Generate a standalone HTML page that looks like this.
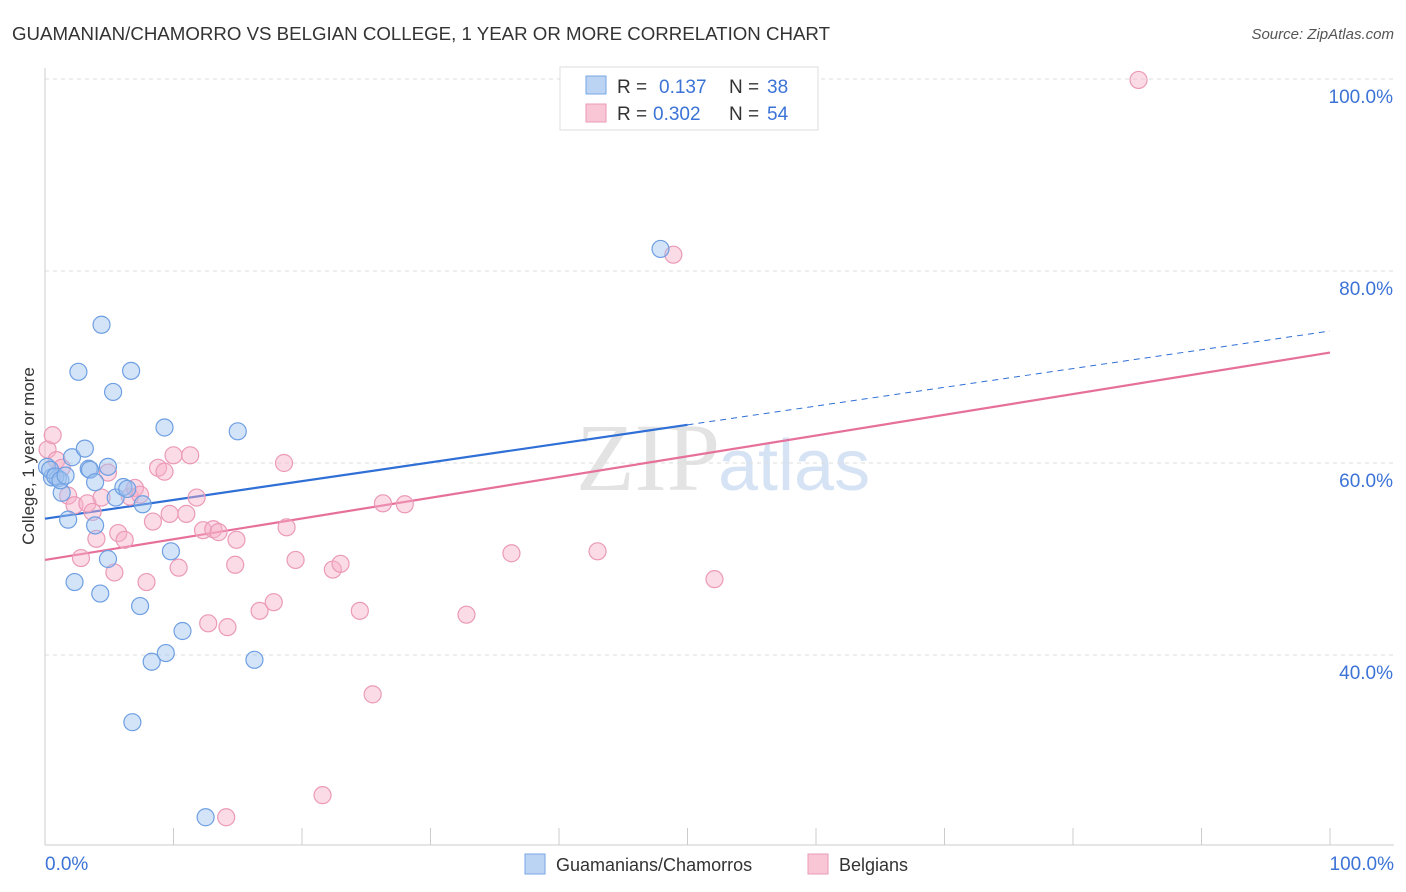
<!DOCTYPE html>
<html><head><meta charset="utf-8"><style>
body{margin:0;background:#fff;font-family:"Liberation Sans",sans-serif;}
svg{display:block}
</style></head><body>
<svg id="chart" width="1406" height="892">
<text x="12" y="40" font-size="18" fill="#333" textLength="818" lengthAdjust="spacingAndGlyphs">GUAMANIAN/CHAMORRO VS BELGIAN COLLEGE, 1 YEAR OR MORE CORRELATION CHART</text>
<text x="1394" y="39" font-size="15" fill="#555" font-style="italic" text-anchor="end">Source: ZipAtlas.com</text>
<text x="720" y="490" font-size="96" fill="#e3e3e3" text-anchor="end" font-family="Liberation Serif,serif">ZIP</text>
<text x="718" y="490" font-size="72" fill="#d6e3f5">atlas</text>
<g id="grid"></g>
<g id="axes"></g>
<g id="lines"></g>
<g id="points"></g>
<text transform="translate(34,456) rotate(-90)" font-size="17" fill="#333" text-anchor="middle">College, 1 year or more</text>
<g>
<rect x="560" y="67" width="258" height="63" fill="#fff" stroke="#ddd"/>
<rect x="586" y="76" width="20" height="18" fill="#bcd4f4" stroke="#7aa6e4"/>
<text x="617" y="93" font-size="19" fill="#333">R = </text><text x="659" y="93" font-size="19" fill="#3b73d6">0.137</text>
<text x="729" y="93" font-size="19" fill="#333">N = </text><text x="767" y="93" font-size="19" fill="#3b73d6">38</text>
<rect x="586" y="104" width="20" height="18" fill="#f9c6d6" stroke="#eb9ab7"/>
<text x="617" y="120" font-size="19" fill="#333">R = </text><text x="653" y="120" font-size="19" fill="#3b73d6">0.302</text>
<text x="729" y="120" font-size="19" fill="#333">N = </text><text x="767" y="120" font-size="19" fill="#3b73d6">54</text>
</g>
<g>
<rect x="525" y="854" width="20" height="20" fill="#bcd4f4" stroke="#7aa6e4"/>
<text x="556" y="871" font-size="18" fill="#333">Guamanians/Chamorros</text>
<rect x="808" y="854" width="20" height="20" fill="#f9c6d6" stroke="#eb9ab7"/>
<text x="839" y="871" font-size="18" fill="#333">Belgians</text>
</g>
</svg>
<script>
const blueX=[0.16,0.54,1.0,1.3,1.8,2.1,2.3,2.6,3.1,3.4,3.5,3.9,3.9,4.3,4.4,4.9,4.9,5.3,5.5,6.1,6.4,6.7,6.8,7.4,7.6,8.3,9.3,9.4,9.8,10.7,12.5,15.0,16.3,47.9,0.4,0.8,1.2,1.6];
const blueY=[59.6,58.5,58.4,56.9,54.1,60.6,47.6,69.5,61.5,59.4,59.3,58.0,53.5,46.4,74.4,59.6,50.0,67.4,56.4,57.5,57.3,69.6,33.0,45.1,55.7,39.3,63.7,40.2,50.8,42.5,23.1,63.3,39.5,82.3,59.3,58.6,58.2,58.7];
const pinkX=[0.2,0.6,0.9,1.3,1.8,2.3,2.8,3.3,3.7,4.0,4.4,4.9,5.4,5.7,6.2,6.6,7.0,7.4,7.9,8.4,8.8,9.3,9.7,10.0,10.4,11.0,11.3,11.8,12.3,12.7,13.1,13.5,14.2,14.8,14.9,16.7,17.8,18.6,18.8,19.5,21.6,22.4,23.0,24.5,25.5,26.3,28.0,32.8,36.3,43.0,48.9,52.1,85.1,14.1];
const pinkY=[61.4,62.9,60.3,59.5,56.6,55.6,50.1,55.8,54.9,52.1,56.4,59.0,48.6,52.7,52.0,56.5,57.4,56.7,47.6,53.9,59.5,59.1,54.7,60.8,49.1,54.7,60.8,56.4,53.0,43.3,53.1,52.8,42.9,49.4,52.0,44.6,45.5,60.0,53.3,49.9,25.4,48.9,49.5,44.6,35.9,55.8,55.7,44.2,50.6,50.8,81.7,47.9,99.9,23.1];
const blueTrend=[54.2,73.75];
const pinkTrend=[49.9,71.5];
const yTicks=[100,80,60,40];
const xTicks=[0,10,20,30,40,50,60,70,80,90,100];
const NS="http://www.w3.org/2000/svg";
const sx=v=>45+v*12.85;
const sy=v=>79+(100-v)*9.6;
function mk(tag,attrs,parent){const e=document.createElementNS(NS,tag);for(const k in attrs)e.setAttribute(k,attrs[k]);parent.appendChild(e);return e;}
const grid=document.getElementById('grid'),axes=document.getElementById('axes'),lines=document.getElementById('lines'),pts=document.getElementById('points');
yTicks.forEach(t=>{
 const l=mk('line',{x1:45,x2:1394,y1:sy(t),y2:sy(t),stroke:'#ddd','stroke-dasharray':'4,4'},grid);
 
 
 const tx=mk('text',{x:1393,y:sy(t)+24,'font-size':19,fill:'#3b73d6','text-anchor':'end'},axes);
 tx.textContent=t.toFixed(1)+'%';
 
 
});
const ax=mk('line',{x1:45,x2:1394,y1:845,y2:845,stroke:'#ccc'},axes);


const ay=mk('line',{x1:45,x2:45,y1:68,y2:845,stroke:'#ccc'},axes);


xTicks.forEach(t=>{
 const l=mk('line',{x1:sx(t),x2:sx(t),y1:828,y2:845,stroke:'#ccc'},axes);
 
 
});
[[0,'0.0%','start',45],[100,'100.0%','end',1394]].forEach(a=>{
 const tx=mk('text',{x:a[3],y:870,'font-size':19,fill:'#3b73d6','text-anchor':a[2]},axes);
 tx.textContent=a[1];
 
 
});
const bl=mk('line',{x1:sx(0),y1:sy(blueTrend[0]),x2:sx(50),y2:sy(blueTrend[0]+(blueTrend[1]-blueTrend[0])*0.5),stroke:'#2f6fd6','stroke-width':2.2},lines);


const bd=mk('line',{x1:sx(50),y1:sy(blueTrend[0]+(blueTrend[1]-blueTrend[0])*0.5),x2:sx(100),y2:sy(blueTrend[1]),stroke:'#2f6fd6','stroke-width':1,'stroke-dasharray':'6,5'},lines);


const pl=mk('line',{x1:sx(0),y1:sy(pinkTrend[0]),x2:sx(100),y2:sy(pinkTrend[1]),stroke:'#e6709a','stroke-width':2.2},lines);


pinkX.forEach((x,i)=>{
 const c=mk('circle',{cx:sx(x),cy:sy(pinkY[i]),r:8.5,fill:'rgba(246,176,200,0.45)',stroke:'#eb9ab7','stroke-width':1.2},pts);
 
 
});
blueX.forEach((x,i)=>{
 const c=mk('circle',{cx:sx(x),cy:sy(blueY[i]),r:8.5,fill:'rgba(160,195,240,0.45)',stroke:'#6e9fe2','stroke-width':1.2},pts);
 
 
});
</script>
</body></html>
